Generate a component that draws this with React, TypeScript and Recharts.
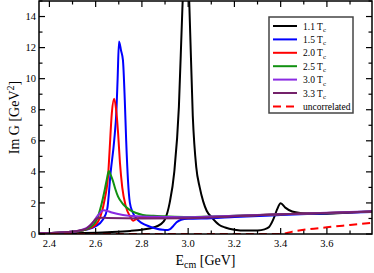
import React from 'react';
import { LineChart, Line, XAxis, YAxis } from 'recharts';

// ---- data (E in GeV, Im G in GeV^2) ----
const E_11 = [2.35, 2.45, 2.55, 2.65, 2.75, 2.8, 2.85, 2.88, 2.9, 2.92, 2.94, 2.96, 2.975, 2.99, 3.005, 3.02, 3.035, 3.05, 3.065, 3.08, 3.1, 3.135, 3.16, 3.2, 3.25, 3.3, 3.33, 3.35, 3.37, 3.385, 3.4, 3.42, 3.45, 3.5, 3.55, 3.6, 3.7, 3.8];
const V_11 = [0.02, 0.04, 0.07, 0.12, 0.2, 0.28, 0.42, 0.62, 0.95, 2.0, 4.0, 8.2, 14.5, 19, 14.8, 7.6, 4.3, 3.0, 2.1, 1.5, 1.1, 0.58, 0.42, 0.28, 0.22, 0.23, 0.3, 0.45, 1.0, 1.6, 1.98, 1.7, 1.45, 1.33, 1.3, 1.31, 1.38, 1.45];

const E_15 = [2.35, 2.45, 2.52, 2.56, 2.6, 2.63, 2.65, 2.665, 2.68, 2.69, 2.695, 2.701, 2.71, 2.718, 2.726, 2.732, 2.74, 2.748, 2.76, 2.776, 2.8, 2.83, 2.86, 2.89, 2.905, 2.92, 2.935, 2.95, 2.97, 3.0, 3.1, 3.2, 3.4, 3.6, 3.8];
const V_15 = [0.05, 0.1, 0.18, 0.28, 0.5, 0.9, 1.6, 4.0, 6.0, 8.0, 10, 12.4, 11.8, 11.2, 8.6, 6.0, 3.4, 2.0, 1.4, 1.0, 0.7, 0.5, 0.36, 0.27, 0.25, 0.3, 0.5, 0.75, 0.92, 0.98, 1.02, 1.1, 1.22, 1.33, 1.42];

const E_20 = [2.35, 2.45, 2.52, 2.56, 2.6, 2.62, 2.64, 2.655, 2.66, 2.67, 2.68, 2.69, 2.697, 2.705, 2.715, 2.73, 2.75, 2.762, 2.78, 2.8, 2.9, 3.0, 3.2, 3.4, 3.6, 3.8];
const V_20 = [0.05, 0.1, 0.18, 0.3, 0.6, 1.1, 2.3, 4.0, 5.3, 7.8, 8.7, 7.8, 6.5, 4.6, 3.0, 1.8, 1.1, 0.85, 1.0, 1.05, 1.06, 1.06, 1.16, 1.27, 1.36, 1.44];

const E_25 = [2.35, 2.45, 2.52, 2.56, 2.59, 2.604, 2.625, 2.64, 2.648, 2.657, 2.665, 2.675, 2.685, 2.697, 2.72, 2.747, 2.775, 2.804, 2.85, 2.9, 3.0, 3.2, 3.4, 3.6, 3.8];
const V_25 = [0.05, 0.1, 0.18, 0.3, 0.6, 0.9, 1.9, 2.9, 3.5, 4.06, 3.8, 3.4, 2.9, 2.4, 1.9, 1.55, 1.35, 1.23, 1.17, 1.14, 1.1, 1.17, 1.27, 1.36, 1.45];

const E_30 = [2.35, 2.45, 2.52, 2.56, 2.589, 2.61, 2.635, 2.648, 2.67, 2.718, 2.76, 2.8, 2.9, 3.0, 3.2, 3.4, 3.6, 3.8];
const V_30 = [0.05, 0.1, 0.2, 0.38, 0.77, 1.2, 1.53, 1.5, 1.38, 1.22, 1.16, 1.13, 1.1, 1.08, 1.17, 1.27, 1.37, 1.46];

const E_33 = [2.35, 2.45, 2.52, 2.56, 2.58, 2.604, 2.625, 2.65, 2.8, 3.0, 3.2, 3.4, 3.6, 3.8];
const V_33 = [0.05, 0.1, 0.2, 0.35, 0.6, 1.0, 1.05, 1.03, 1.0, 1.02, 1.14, 1.27, 1.36, 1.45];

const E_UNC = [2.35, 3.4, 3.45, 3.5, 3.6, 3.7, 3.8];
const V_UNC = [0, 0, 0.15, 0.27, 0.43, 0.58, 0.73];

const LABELS = ['1.1 T', '1.5 T', '2.0 T', '2.5 T', '3.0 T', '3.3 T', 'uncorrelated'];
const X_TICKS = [2.4, 2.5, 2.6, 2.7, 2.8, 2.9, 3.0, 3.1, 3.2, 3.3, 3.4, 3.5, 3.6, 3.7];
const Y_TICKS = [0, 1, 2, 3, 4, 5, 6, 7, 8, 9, 10, 11, 12, 13, 14, 15];
const X_DOMAIN = [2.355, 3.795];
const Y_DOMAIN = [0, 15];

const series = [
  { label: LABELS[0], sub: 'c', E: E_11, V: V_11, color: '#000000', dash: undefined as string | undefined },
  { label: LABELS[1], sub: 'c', E: E_15, V: V_15, color: '#0000ff', dash: undefined },
  { label: LABELS[2], sub: 'c', E: E_20, V: V_20, color: '#ff0000', dash: undefined },
  { label: LABELS[3], sub: 'c', E: E_25, V: V_25, color: '#119111', dash: undefined },
  { label: LABELS[4], sub: 'c', E: E_30, V: V_30, color: '#8a2be2', dash: undefined },
  { label: LABELS[5], sub: 'c', E: E_33, V: V_33, color: '#74226a', dash: undefined },
  { label: LABELS[6], sub: '', E: E_UNC, V: V_UNC, color: '#ff0000', dash: '8 5' },
];

const W = 374;
const H = 273;
const LEFT = 39;
const TOP = 1;
const RIGHT = 372;
const BOTTOM = 234;
const FONT = '"Liberation Serif", "DejaVu Serif", serif';

const XTick = (props: any) => {
  const { x, payload } = props;
  const v = payload.value as number;
  const major = Math.round(v * 10) % 2 === 0;
  const len = major ? 6 : 3.5;
  return (
    <g>
      <line x1={x} x2={x} y1={BOTTOM} y2={BOTTOM - len} stroke="#000" strokeWidth={1.2} />
      <line x1={x} x2={x} y1={TOP} y2={TOP + len} stroke="#000" strokeWidth={1.2} />
      {major && (
        <text x={x} y={BOTTOM + 13} textAnchor="middle" style={{ fontFamily: FONT, fontSize: 10.5 }} fill="#000">
          {v.toFixed(1)}
        </text>
      )}
    </g>
  );
};

const YTick = (props: any) => {
  const { y, payload } = props;
  const v = payload.value as number;
  const major = v % 2 === 0;
  const len = major ? 6 : 3.5;
  return (
    <g>
      <line x1={LEFT} x2={LEFT + len} y1={y} y2={y} stroke="#000" strokeWidth={1.2} />
      <line x1={RIGHT} x2={RIGHT - len} y1={y} y2={y} stroke="#000" strokeWidth={1.2} />
      {major && (
        <text x={LEFT - 3} y={y + 3.6} textAnchor="end" style={{ fontFamily: FONT, fontSize: 10.5 }} fill="#000">
          {v}
        </text>
      )}
    </g>
  );
};

export default function App() {
  const LX = 269, LY = 17, LW = 84, LH = 96, ROW0 = 26, ROWSTEP = 13.4;
  return (
    <div style={{ position: 'absolute', left: 0, top: 0, width: W, height: H, background: '#fff' }}>
      <LineChart width={W} height={H} margin={{ top: TOP, right: W - RIGHT, left: 0, bottom: 0 }}>
        <XAxis
          type="number"
          dataKey="E"
          domain={X_DOMAIN}
          ticks={X_TICKS}
          interval={0}
          allowDataOverflow
          height={H - BOTTOM}
          tickLine={false}
          axisLine={false}
          tick={<XTick />}
        />
        <YAxis
          type="number"
          domain={Y_DOMAIN}
          ticks={Y_TICKS}
          interval={0}
          allowDataOverflow
          width={LEFT}
          tickLine={false}
          axisLine={false}
          tick={<YTick />}
        />
        {series.map((s) => (
          <Line
            key={s.label}
            data={s.E.map((e, i) => ({ E: e, v: s.V[i] }))}
            dataKey="v"
            type="monotone"
            stroke={s.color}
            strokeWidth={2}
            strokeDasharray={s.dash}
            dot={false}
            activeDot={false}
            isAnimationActive={false}
          />
        ))}
      </LineChart>
      <svg width={W} height={H} style={{ position: 'absolute', left: 0, top: 0, pointerEvents: 'none' }}>
        <rect x={LEFT} y={TOP} width={RIGHT - LEFT} height={BOTTOM - TOP} fill="none" stroke="#000" strokeWidth={1.5} />
        <rect x={LX} y={LY} width={LW} height={LH} fill="#fff" stroke="#444" strokeWidth={1.5} />
        {series.map((s, i) => {
          const y = ROW0 + i * ROWSTEP;
          return (
            <g key={s.label}>
              <line x1={LX + 4} x2={LX + 28} y1={y} y2={y} stroke={s.color} strokeWidth={2} strokeDasharray={s.dash} />
              <text x={LX + 34} y={y + 3.5} style={{ fontFamily: FONT, fontSize: 9.5 }} fill="#000">
                {s.label}
                {s.sub && (
                  <tspan dy={2.5} style={{ fontSize: 7 }}>
                    {s.sub}
                  </tspan>
                )}
              </text>
            </g>
          );
        })}
        <text x={(LEFT + RIGHT) / 2} y={265} textAnchor="middle" style={{ fontFamily: FONT, fontSize: 14 }} fill="#000">
          E
          <tspan dy={3} style={{ fontSize: 10 }}>cm</tspan>
          <tspan dy={-3}> [GeV]</tspan>
        </text>
        <text
          transform={`translate(19, ${(TOP + BOTTOM) / 2}) rotate(-90)`}
          textAnchor="middle"
          style={{ fontFamily: FONT, fontSize: 14 }}
          fill="#000"
        >
          Im G [GeV
          <tspan dy={-5} style={{ fontSize: 10 }}>2</tspan>
          <tspan dy={5}>]</tspan>
        </text>
      </svg>
    </div>
  );
}
